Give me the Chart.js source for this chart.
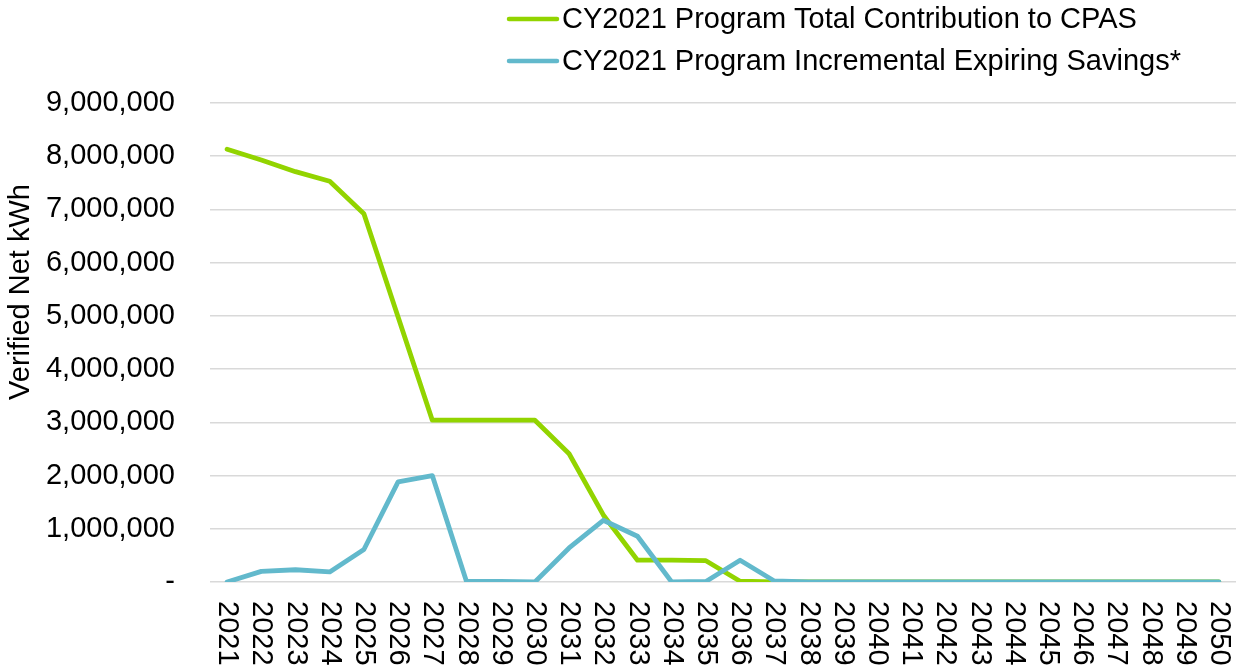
<!DOCTYPE html>
<html>
<head>
<meta charset="utf-8">
<script src="https://cdn.jsdelivr.net/npm/chart.js@4/dist/chart.umd.min.js"></script>
<style>
  html, body { margin: 0; padding: 0; background: #fff; }
  #wrap { width: 1241px; height: 671px; position: relative; }
</style>
</head>
<body>
<div id="wrap"><canvas id="cpas"></canvas></div>
<script>
// CY2021 program contribution to CPAS vs expiring savings

const years = []
for (let y = 2021; y <= 2050; y++) years.push(String(y))

const totalContribution = [
  8130000, 7930000, 7710000, 7530000, 6920000, 4980000, 3040000, 3040000, 3040000, 3040000,
  2410000, 1260000, 410000, 410000, 400000, 15000, 0, 0, 0, 0,
  0, 0, 0, 0, 0, 0, 0, 0, 0, 0
]
const expiringSavings = [
  0, 200000, 230000, 190000, 610000, 1880000, 2000000, 10000, 10000, 0,
  640000, 1160000, 860000, 0, 10000, 410000, 20000, 0, 0, 0,
  0, 0, 0, 0, 0, 0, 0, 0, 0, 0
]
const seriesNames = [
  'CY2021 Program Total Contribution to CPAS',
  'CY2021 Program Incremental Expiring Savings*'
]
const yTitle = 'Verified Net kWh'

const FONT = '"Liberation Sans", Arial, sans-serif'
const GREEN = '#92D400'
const BLUE = '#62B9CC'

// Excel-like legend stacked at the top right
const legendPlugin = {
  id: 'stackedLegend',
  afterDraw(chart) {
    const c = chart.ctx
    c.save()
    c.font = '29px ' + FONT
    c.textBaseline = 'middle'
    c.lineCap = 'round'
    chart.data.datasets.forEach((ds, i) => {
      const y = 19 + i * 42
      c.strokeStyle = ds.borderColor
      c.lineWidth = 4.5
      c.beginPath()
      c.moveTo(509, y)
      c.lineTo(557, y)
      c.stroke()
      c.fillStyle = '#000'
      c.fillText(ds.label, 562, y + 1)
    })
    c.restore()
  }
}

// x labels read top to bottom, y title offset like the original
const axisText = {
  id: 'axisText',
  afterDraw(chart) {
    const c = chart.ctx
    const x = chart.scales.x
    c.save()
    c.font = '29px ' + FONT
    c.fillStyle = '#000'
    c.textBaseline = 'middle'
    c.textAlign = 'left'
    chart.data.labels.forEach((lab, i) => {
      c.save()
      c.translate(x.getPixelForValue(i), chart.chartArea.bottom + 19)
      c.rotate(Math.PI / 2)
      c.fillText(lab, 0, 0)
      c.restore()
    })
    c.save()
    c.translate(21, 292)
    c.rotate(-Math.PI / 2)
    c.textAlign = 'center'
    c.fillText(yTitle, 0, 0)
    c.restore()
    c.restore()
  }
}

new Chart(document.getElementById('cpas'), {
  type: 'line',
  data: {
    labels: years,
    datasets: [
      {
        label: seriesNames[0],
        data: totalContribution,
        borderColor: GREEN,
        backgroundColor: GREEN,
        borderWidth: 4.8,
        pointRadius: 0,
        tension: 0,
        order: 1,
        borderCapStyle: 'round',
        borderJoinStyle: 'round',
      },
      {
        label: seriesNames[1],
        data: expiringSavings,
        borderColor: BLUE,
        backgroundColor: BLUE,
        borderWidth: 4.8,
        pointRadius: 0,
        tension: 0,
        order: 0,
        borderCapStyle: 'round',
        borderJoinStyle: 'round',
      }
    ]
  },
  options: {
    responsive: true,
    maintainAspectRatio: false,
    animation: false,
    layout: { padding: { top: 103, right: 5, left: 0, bottom: 0 } },
    plugins: {
      legend: { display: false },
      tooltip: { enabled: false }
    },
    scales: {
      x: {
        offset: true,
        grid: { display: false },
        border: { display: false },
        ticks: { display: false },
        afterFit: (s) => { s.height = 89 }
      },
      y: {
        min: 0,
        max: 9000000,
        grid: { color: '#d9d9d9', lineWidth: 1.5, drawTicks: false },
        border: { display: false },
        ticks: {
          stepSize: 1000000,
          padding: 35,
          color: '#000',
          font: { family: FONT, size: 29 },
          callback: (v) => v === 0 ? '-' : v.toLocaleString('en-US')
        },
        afterFit: (s) => { s.width = 210 }
      }
    }
  },
  plugins: [legendPlugin, axisText]
})
</script>
</body>
</html>
